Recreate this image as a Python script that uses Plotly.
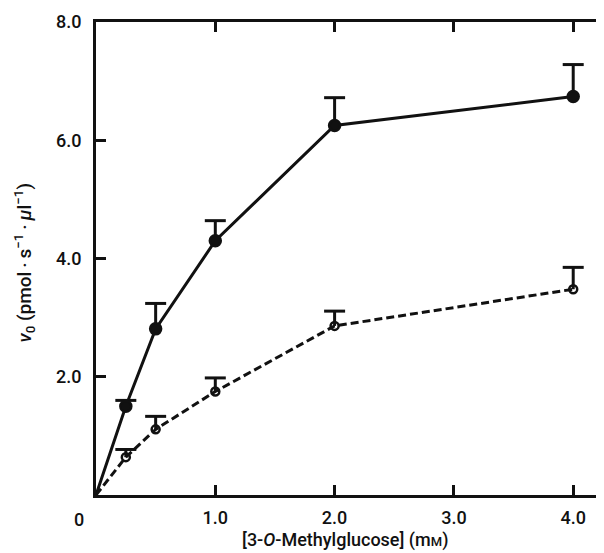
import plotly.graph_objects as go

# 3-O-methylglucose concentration (mM)
conc = [0.25, 0.5, 1.0, 2.0, 4.0]

# filled circles (solid line)
v_filled = [1.50, 2.81, 4.30, 6.25, 6.74]
err_filled = [0.10, 0.43, 0.34, 0.47, 0.54]

# open circles (dashed line)
v_open = [0.64, 1.11, 1.75, 2.86, 3.48]
err_open = [0.13, 0.22, 0.23, 0.25, 0.37]

x_ticks = [1, 2, 3, 4]
x_labels = ['1.0', '2.0', '3.0', '4.0']
y_ticks = [2, 4, 6, 8]
y_labels = ['2.0', '4.0', '6.0', '8.0']

ink = '#111111'
font = dict(family='Roboto, Liberation Sans, Arial, sans-serif', size=18,
            color=ink, weight=500)


def upper_bars(xs, ys, errs):
    # one-sided error bars: stem from the mean up to mean + error
    bx, by = [], []
    for x, y, e in zip(xs, ys, errs):
        bx += [x, x, None]
        by += [y, y + e, None]
    tops = [y + e for y, e in zip(ys, errs)]
    return bx, by, tops


fig = go.Figure()

for vals, errs, dash, sym, size in [
        (v_filled, err_filled, 'solid', 'circle', 11),
        (v_open, err_open, '8px,4px', 'circle-open', 8)]:
    bx, by, tops = upper_bars(conc, vals, errs)
    fig.add_scatter(x=bx, y=by, mode='lines', line=dict(color=ink, width=3),
                    hoverinfo='skip')
    fig.add_scatter(x=conc, y=tops, mode='markers', hoverinfo='skip',
                    marker=dict(symbol='line-ew', size=15,
                                line=dict(width=3, color=ink)))
    # curve starts at the origin
    fig.add_scatter(x=[0] + conc, y=[0] + vals, mode='lines',
                    line=dict(color=ink, width=3, dash=dash), hoverinfo='skip')
    fig.add_scatter(x=conc, y=vals, mode='markers',
                    marker=dict(symbol=sym, size=size, color=ink,
                                line=dict(width=2.5, color=ink)))

fig.update_layout(
    width=604, height=553,
    margin=dict(l=88, r=0, t=14, b=66),
    plot_bgcolor='white', paper_bgcolor='white',
    showlegend=False, font=font,
)
fig.update_xaxes(range=[0, 4.3], tickvals=x_ticks, ticktext=x_labels,
                 ticks='inside', ticklen=10, tickwidth=2.5, tickcolor=ink,
                 showline=True, linewidth=3, linecolor=ink, mirror='ticks',
                 showgrid=False, zeroline=False, ticklabelstandoff=4)
fig.update_yaxes(range=[0, 8], tickvals=y_ticks, ticktext=y_labels,
                 ticks='inside', ticklen=10, tickwidth=2.5, tickcolor=ink,
                 showline=True, linewidth=3, linecolor=ink, mirror='ticks',
                 showgrid=False, zeroline=False, ticklabelstandoff=8)

# origin label and axis titles
fig.add_annotation(x=0, y=0, xref='x', yref='y', text='0', showarrow=False,
                   xanchor='center', yanchor='middle',
                   xshift=-17, yshift=-24, font=font)
fig.add_annotation(x=0.486, y=-0.096, xref='paper', yref='paper',
                   xanchor='center', yanchor='middle',
                   text="[3-<i>O</i>-Methylglucose] (m<span style='font-size:13px'>M</span>)",
                   showarrow=False, font=font)
fig.add_annotation(x=-0.14, y=0.492, xref='paper', yref='paper', textangle=-90,
                   xanchor='center', yanchor='middle',
                   text='<i>v</i><sub>0</sub> (pmol\u2009·\u2009s<sup>−1</sup>\u2009·\u2009<i>μ</i>l<sup>−1</sup>)',
                   showarrow=False, font=dict(size=19))

fig.write_html('out.html')
